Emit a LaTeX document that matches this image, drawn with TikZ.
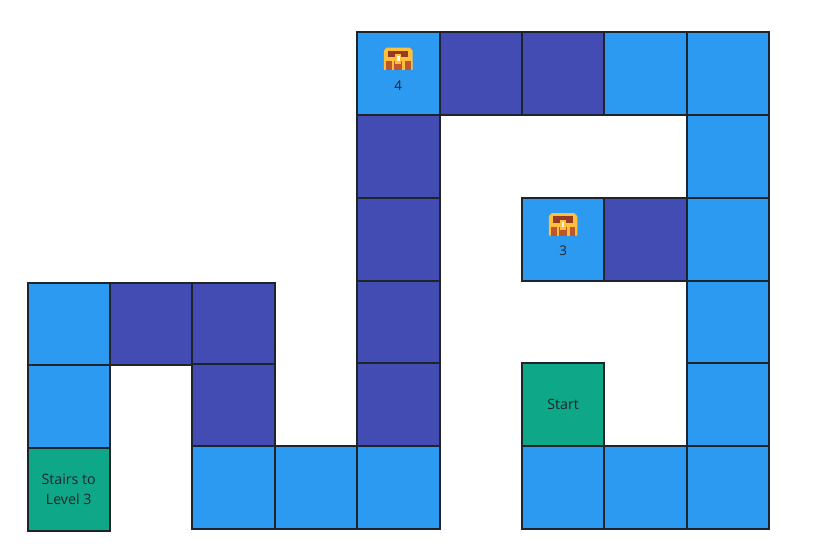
\documentclass[tikz,border=0pt]{standalone}
\usepackage{fontspec}
\setmainfont{Open Sans}
\usetikzlibrary{positioning}
\definecolor{cellblue}{RGB}{44,154,240}
\definecolor{celldark}{RGB}{67,76,178}
\definecolor{cellgreen}{RGB}{14,168,136}
\definecolor{cellline}{RGB}{30,36,44}
\definecolor{chestgold}{RGB}{255,190,60}
\definecolor{chestlid}{RGB}{150,60,35}
\definecolor{chestbody}{RGB}{190,85,45}
\tikzset{
    % Maze cells
    cell/.style={rectangle, draw=cellline, line width=0.04cm, fill=#1,
                minimum width=1.648cm, minimum height=1.657cm, inner sep=0pt, align=center,
                text=cellline, font=\fontsize{8.1pt}{11.3pt}\selectfont},
    bluecell/.style={cell=cellblue},
    darkcell/.style={cell=celldark},
    greencell/.style={cell=cellgreen},
    chestlbl/.style={text=cellline, inner sep=0pt, font=\fontsize{7.6pt}{9pt}\selectfont},
    % Treasure chest
    pics/chest/.style={code={
        \fill[chestgold] (-0.29,-0.22) -- (-0.29,0.17) -- (-0.23,0.23) -- (0.23,0.23)
            -- (0.29,0.17) -- (0.29,-0.22) -- cycle;
        \fill[chestlid] (-0.2,0.17) rectangle (0.2,0.03);
        \fill[chestbody] (-0.25,-0.22) rectangle (0.25,-0.04);
        \fill[chestgold] (-0.13,-0.22) rectangle (-0.08,0.0);
        \fill[chestgold] (0.08,-0.22) rectangle (0.13,0.0);
        \fill[chestgold] (-0.06,0.1) rectangle (0.06,-0.1);
        \fill[white!90!chestgold] (-0.025,0.05) rectangle (0.025,-0.05);
    }},
}
\begin{document}
\begin{tikzpicture}[x=1.648cm, y=1.657cm]
\useasboundingbox (-0.834,-0.802) rectangle (9.045,5.887);
\fill[white] (-0.834,-0.802) rectangle (9.045,5.887);

% Left part
\node[greencell] (stairs) at (0,-0.024) {Stairs to\\Level 3};
\node[bluecell] (a1) at (0,0.976) {};
\node[bluecell] (a2) at (0,1.976) {};
\node[darkcell] (b2) at (1,1.976) {};
\node[darkcell] (c2) at (2,1.976) {};
\node[darkcell] (c1) at (2,0.99) {};
\node[bluecell] (c0) at (2,0) {};
\node[bluecell] (d0) at (3,0) {};
\node[bluecell] (e0) at (4,0) {};

% Middle column
\node[darkcell] (e1) at (4,1) {};
\node[darkcell] (e2) at (4,2) {};
\node[darkcell] (e3) at (4,3) {};
\node[darkcell] (e4) at (4,4) {};
\node[bluecell] (e5) at (4,5) {};
\node[darkcell] (f5) at (5,5) {};
\node[darkcell] (g5) at (6,5) {};
\node[bluecell] (h5) at (7,5) {};
\node[bluecell] (i5) at (8,5) {};

% Right column
\node[bluecell] (i4) at (8,4) {};
\node[bluecell] (i3) at (8,3) {};
\node[bluecell] (i2) at (8,2) {};
\node[bluecell] (i1) at (8,1) {};
\node[bluecell] (i0) at (8,0) {};
\node[bluecell] (h0) at (7,0) {};
\node[bluecell] (g0) at (6,0) {};
\node[greencell] (start) at (6,1) {Start};
\node[bluecell] (g3) at (6,3) {};
\node[darkcell] (h3) at (7,3) {};

% Chests
\pic[scale=0.6] at (4,5.175) {chest};
\node[chestlbl] (four) at (4,4.855) {4};
\pic[scale=0.6] at (6,3.175) {chest};
\node[chestlbl] (three) at (6,2.855) {3};
\end{tikzpicture}
\end{document}
